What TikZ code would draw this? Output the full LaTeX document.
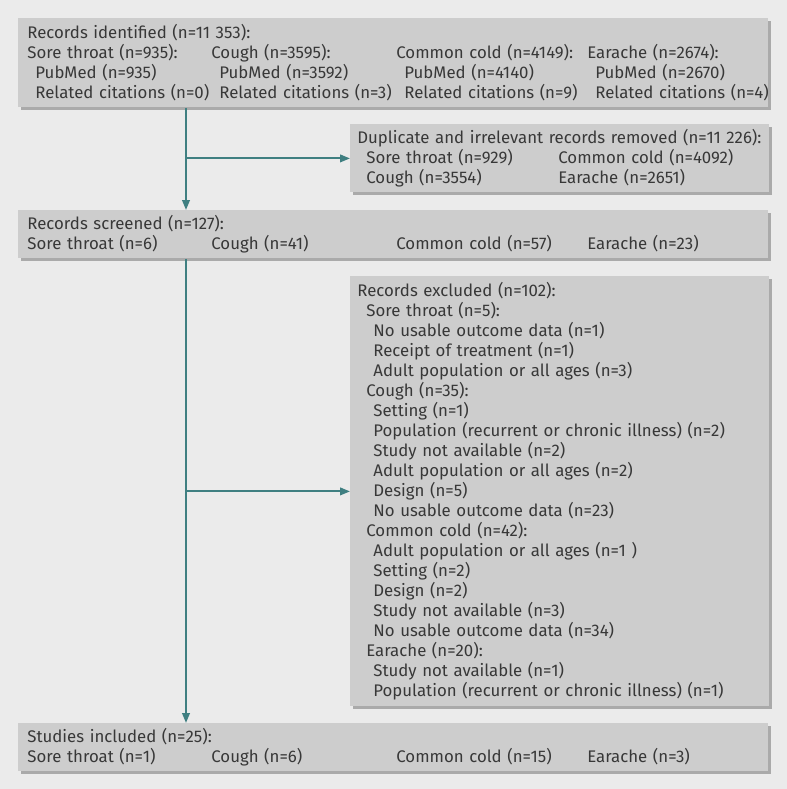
\documentclass[tikz,border=0pt]{standalone}
\usepackage{fontspec}
\setmainfont{Fira Sans}
\usepackage{xcolor}
\usetikzlibrary{arrows.meta,positioning,shadows}
\definecolor{bggray}{HTML}{EBEBEB}
\definecolor{boxgray}{HTML}{CDCDCD}
\definecolor{shadegray}{HTML}{AAAAAA}
\definecolor{flowteal}{HTML}{3F7F81}
\definecolor{inkgray}{HTML}{383838}
\newcommand{\fourcol}[4]{\makebox[92pt][l]{#1}\makebox[92.5pt][l]{#2}\makebox[95.5pt][l]{#3}\mbox{#4}}
\newcommand{\twocol}[2]{\makebox[96pt][l]{#1}\mbox{#2}}
\newcommand{\ind}{\hspace*{4pt}}
\newcommand{\indd}{\hspace*{8pt}}

\begin{document}
\begin{tikzpicture}[x=0.5pt, y=-0.5pt,
  flowbox/.style={
    fill=boxgray, anchor=north west, align=left,
    inner ysep=0pt, text=inkgray,
    font=\fontsize{8.4}{10}\selectfont,
    general shadow={fill=shadegray, shadow xshift=1.2pt, shadow yshift=-1.2pt}
  },
  widebox/.style={flowbox, text width=366pt, inner xsep=4.5pt},
  sidebox/.style={flowbox, text width=202.5pt, inner xsep=3.5pt},
  flow/.style={draw=flowteal, line width=1pt,
    -{Triangle[length=5pt, width=3.8pt]}}]

% Background panel
\fill[bggray] (0,0) rectangle (787,789);
\useasboundingbox (0,0) rectangle (787,789);

% Main column boxes
\node[widebox, minimum height=44.5pt] (ident) at (18,18)
  {Records identified (n=11~353):\\
   \fourcol{Sore throat (n=935):}{Cough (n=3595):}{Common cold (n=4149):}{Earache (n=2674):}\\
   \fourcol{\ind PubMed (n=935)}{\ind PubMed (n=3592)}{\ind PubMed (n=4140)}{\ind PubMed (n=2670)}\\
   \fourcol{\ind Related citations (n=0)}{\ind Related citations (n=3)}{\ind Related citations (n=9)}{\ind Related citations (n=4)}};

\node[widebox, minimum height=24pt] (screened) at (18,210)
  {Records screened (n=127):\\
   \fourcol{Sore throat (n=6)}{Cough (n=41)}{Common cold (n=57)}{Earache (n=23)}};

\node[widebox, minimum height=24pt] (included) at (18,723)
  {Studies included (n=25):\\
   \fourcol{Sore throat (n=1)}{Cough (n=6)}{Common cold (n=15)}{Earache (n=3)}};

% Side boxes
\node[sidebox, minimum height=34pt] (removed) at (350,124)
  {\mbox{Duplicate and irrelevant records removed (n=11~226):}\\
   \hspace*{4.5pt}\twocol{Sore throat (n=929)}{Common cold (n=4092)}\\
   \hspace*{4.5pt}\twocol{Cough (n=3554)}{Earache (n=2651)}};

\node[sidebox, minimum height=215pt] (excluded) at (350,276)
  {Records excluded (n=102):\\
   \hspace*{4.5pt}Sore throat (n=5):\\
   \indd No usable outcome data (n=1)\\
   \indd Receipt of treatment (n=1)\\
   \indd Adult population or all ages (n=3)\\
   \hspace*{4.5pt}Cough (n=35):\\
   \indd Setting (n=1)\\
   \indd Population (recurrent or chronic illness) (n=2)\\
   \indd Study not available (n=2)\\
   \indd Adult population or all ages (n=2)\\
   \indd Design (n=5)\\
   \indd No usable outcome data (n=23)\\
   \hspace*{4.5pt}Common cold (n=42):\\
   \indd Adult population or all ages (n=1 )\\
   \indd Setting (n=2)\\
   \indd Design (n=2)\\
   \indd Study not available (n=3)\\
   \indd No usable outcome data (n=34)\\
   \hspace*{4.5pt}Earache (n=20):\\
   \indd Study not available (n=1)\\
   \indd Population (recurrent or chronic illness) (n=1)};

% Spine and branches
\coordinate (spine) at (186,0);
\draw[flow] (ident.south -| spine) -- (screened.north -| spine);
\draw[flow] (screened.south -| spine) -- (included.north -| spine);
\draw[flow] (spine |- removed.west) -- (removed.west);
\draw[flow] (spine |- excluded.west) -- (excluded.west);

\end{tikzpicture}
\end{document}
